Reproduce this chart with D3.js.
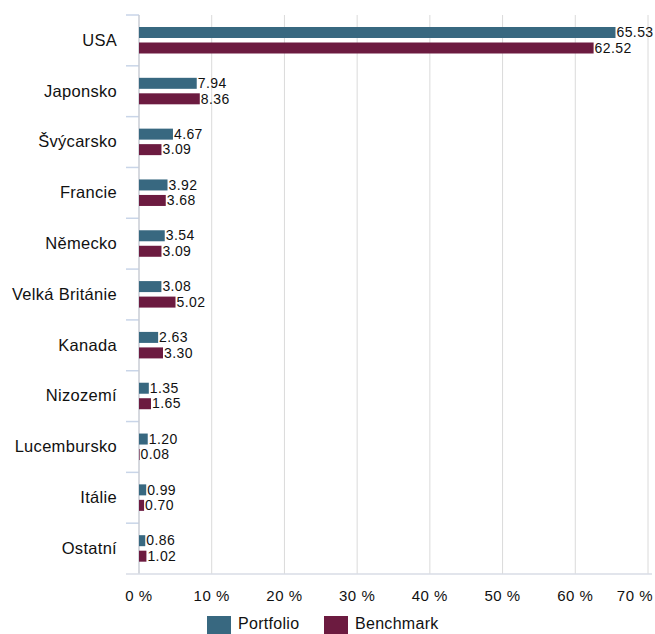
<!DOCTYPE html>
<html>
<head>
<meta charset="utf-8">
<script src="https://cdn.jsdelivr.net/npm/d3@7"></script>
<style>
  body { margin: 0; background: #fff; }
  text { font-family: "Liberation Sans", Arial, sans-serif; fill: #111; }
</style>
</head>
<body>
<svg width="655" height="634"></svg>
<script>
const countries = ['USA', 'Japonsko', 'Švýcarsko', 'Francie', 'Německo', 'Velká Británie', 'Kanada', 'Nizozemí', 'Lucembursko', 'Itálie', 'Ostatní'];
const portfolio = [65.53, 7.94, 4.67, 3.92, 3.54, 3.08, 2.63, 1.35, 1.20, 0.99, 0.86];
const benchmark = [62.52, 8.36, 3.09, 3.68, 3.09, 5.02, 3.30, 1.65, 0.08, 0.70, 1.02];
const ticks = [0, 10, 20, 30, 40, 50, 60, 70];
const seriesNames = ['Portfolio', 'Benchmark'];
const colors = ['#386880', '#6c1b40'];

const svg = d3.select('svg');
const pLeft = 139, pRight = 648, pTop = 15, pBottom = 574;

const x = d3.scaleLinear().domain([0, 70]).range([pLeft, pRight]);
const y = d3.scaleBand().domain(countries).range([pTop, pBottom]);

// gridlines
svg.selectAll('.grid')
  .data(ticks.slice(1))
  .enter().append('line')
  .attr('x1', d => x(d)).attr('x2', d => x(d))
  .attr('y1', pTop).attr('y2', pBottom)
  .attr('stroke', '#dadada').attr('stroke-width', 1);

// category ticks
svg.selectAll('.ctick')
  .data(countries)
  .enter().append('line')
  .attr('x1', pLeft - 13).attr('x2', pLeft)
  .attr('y1', d => y(d)).attr('y2', d => y(d))
  .attr('stroke', '#c9d5e8').attr('stroke-width', 1.5);

// y axis line and bottom line
svg.append('line')
  .attr('x1', pLeft).attr('x2', pLeft).attr('y1', pTop).attr('y2', pBottom)
  .attr('stroke', '#c8ccd4').attr('stroke-width', 1.5);
svg.append('line')
  .attr('x1', pLeft - 13).attr('x2', pRight + 4).attr('y1', pBottom).attr('y2', pBottom)
  .attr('stroke', '#d8dde6').attr('stroke-width', 1.5);

// category labels
svg.selectAll('.clabel')
  .data(countries)
  .enter().append('text')
  .attr('x', 117)
  .attr('y', d => y(d) + y.bandwidth() / 2 + 1)
  .attr('text-anchor', 'end')
  .attr('dominant-baseline', 'middle')
  .style('font-size', '16.5px')
  .style('letter-spacing', '0.3px')
  .text(d => d);

const barH = 11;
const series = [portfolio, benchmark];
series.forEach((vals, si) => {
  const off = si === 0 ? 12 : 27.5;
  const g = svg.append('g');
  g.selectAll('rect')
    .data(vals)
    .enter().append('rect')
    .attr('x', x(0))
    .attr('y', (d, i) => y(countries[i]) + off)
    .attr('width', d => x(d) - x(0))
    .attr('height', barH)
    .attr('fill', colors[si]);
  g.selectAll('text')
    .data(vals)
    .enter().append('text')
    .attr('x', d => x(d) + 1)
    .attr('y', (d, i) => y(countries[i]) + off + barH / 2 + 1)
    .attr('dominant-baseline', 'middle')
    .style('font-size', '14px')
    .style('letter-spacing', '0.4px')
    .text(d => d.toFixed(2));
});

// x tick labels
svg.selectAll('.xlabel')
  .data(ticks)
  .enter().append('text')
  .attr('x', d => d === 70 ? 653 : x(d))
  .attr('y', 601)
  .attr('text-anchor', d => d === 70 ? 'end' : 'middle')
  .style('font-size', '15px')
  .style('letter-spacing', '0.5px')
  .text(d => d + ' %');

// legend
const legX = [207, 324];
seriesNames.forEach((name, i) => {
  svg.append('rect')
    .attr('x', legX[i]).attr('y', 616)
    .attr('width', 24).attr('height', 18)
    .attr('fill', colors[i]);
  svg.append('text')
    .attr('x', legX[i] + 31).attr('y', 629)
    .style('font-size', '16px')
    .style('letter-spacing', '0.3px')
    .text(name);
});
</script>
</body>
</html>
